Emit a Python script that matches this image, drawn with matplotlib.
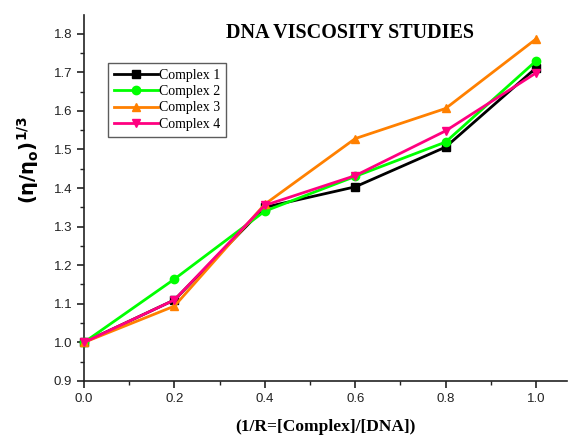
import matplotlib
matplotlib.use("Agg")
import matplotlib.pyplot as plt
from matplotlib.ticker import MultipleLocator

x = [0.0, 0.2, 0.4, 0.6, 0.8, 1.0]
complex1 = [1.000, 1.110, 1.350, 1.403, 1.506, 1.711]
complex2 = [1.000, 1.164, 1.340, 1.430, 1.519, 1.729]
complex3 = [1.000, 1.094, 1.358, 1.528, 1.606, 1.786]
complex4 = [1.000, 1.110, 1.355, 1.432, 1.548, 1.698]
labels = ["Complex 1", "Complex 2", "Complex 3", "Complex 4"]
colors = ["#000000", "#00ff00", "#ff8000", "#ff0080"]
markers = ["s", "o", "^", "v"]

fig = plt.figure(figsize=(5.72, 4.37), dpi=100)
ax = fig.add_axes([84/572, 1-381/437, (567-84)/572, (381-15)/437])

for ys, lab, c, m in zip([complex1, complex2, complex3, complex4], labels, colors, markers):
    ax.plot(x, ys, color=c, marker=m, markersize=6, linewidth=2, label=lab, clip_on=False, zorder=3)

ax.set_xlim(0, (567-84)/452)
ax.set_ylim(0.9, 0.9 + 366/386)
ax.xaxis.set_minor_locator(MultipleLocator(0.1))
ax.yaxis.set_minor_locator(MultipleLocator(0.05))
ax.set_xticks([0.0, 0.2, 0.4, 0.6, 0.8, 1.0])
ax.set_xticklabels(["0.0", "0.2", "0.4", "0.6", "0.8", "1.0"])
ax.set_yticks([0.9, 1.0, 1.1, 1.2, 1.3, 1.4, 1.5, 1.6, 1.7, 1.8])
ax.set_yticklabels(["0.9", "1.0", "1.1", "1.2", "1.3", "1.4", "1.5", "1.6", "1.7", "1.8"])

for s in ["top", "right"]:
    ax.spines[s].set_visible(False)
for s in ["left", "bottom"]:
    ax.spines[s].set_linewidth(1.2)
    ax.spines[s].set_color("#222222")
ax.tick_params(which="major", direction="out", length=5, width=1.2, labelsize=9.5, colors="#222222")
ax.tick_params(which="minor", direction="out", length=3, width=1.0, colors="#222222")
for t in ax.get_xticklabels() + ax.get_yticklabels():
    t.set_fontfamily("Liberation Sans")

ax.set_xlabel("(1/R=[Complex]/[DNA])", fontfamily="Liberation Serif", fontweight="bold", fontsize=12.5, labelpad=10)

fig.text(28/572, 1 - 160/437, r"$\mathbf{(\eta/\eta_o)^{1/3}}$", fontsize=14, rotation=90,
         ha="center", va="center")

fig.text(350/572, 1 - 33/437, "DNA VISCOSITY STUDIES", fontsize=14.5, fontweight="bold",
         fontfamily="Liberation Serif", ha="center", va="center")

leg = ax.legend(loc="upper left", bbox_to_anchor=((108-84)/483, (381-63)/366),
                prop={"family": "Liberation Serif", "size": 10}, frameon=True, fancybox=False,
                edgecolor="#333333", handlelength=3.2, handletextpad=0.1, borderpad=0.4,
                labelspacing=0.25, borderaxespad=0)
leg.get_frame().set_linewidth(1.0)

fig.savefig("out.png", dpi=100)
